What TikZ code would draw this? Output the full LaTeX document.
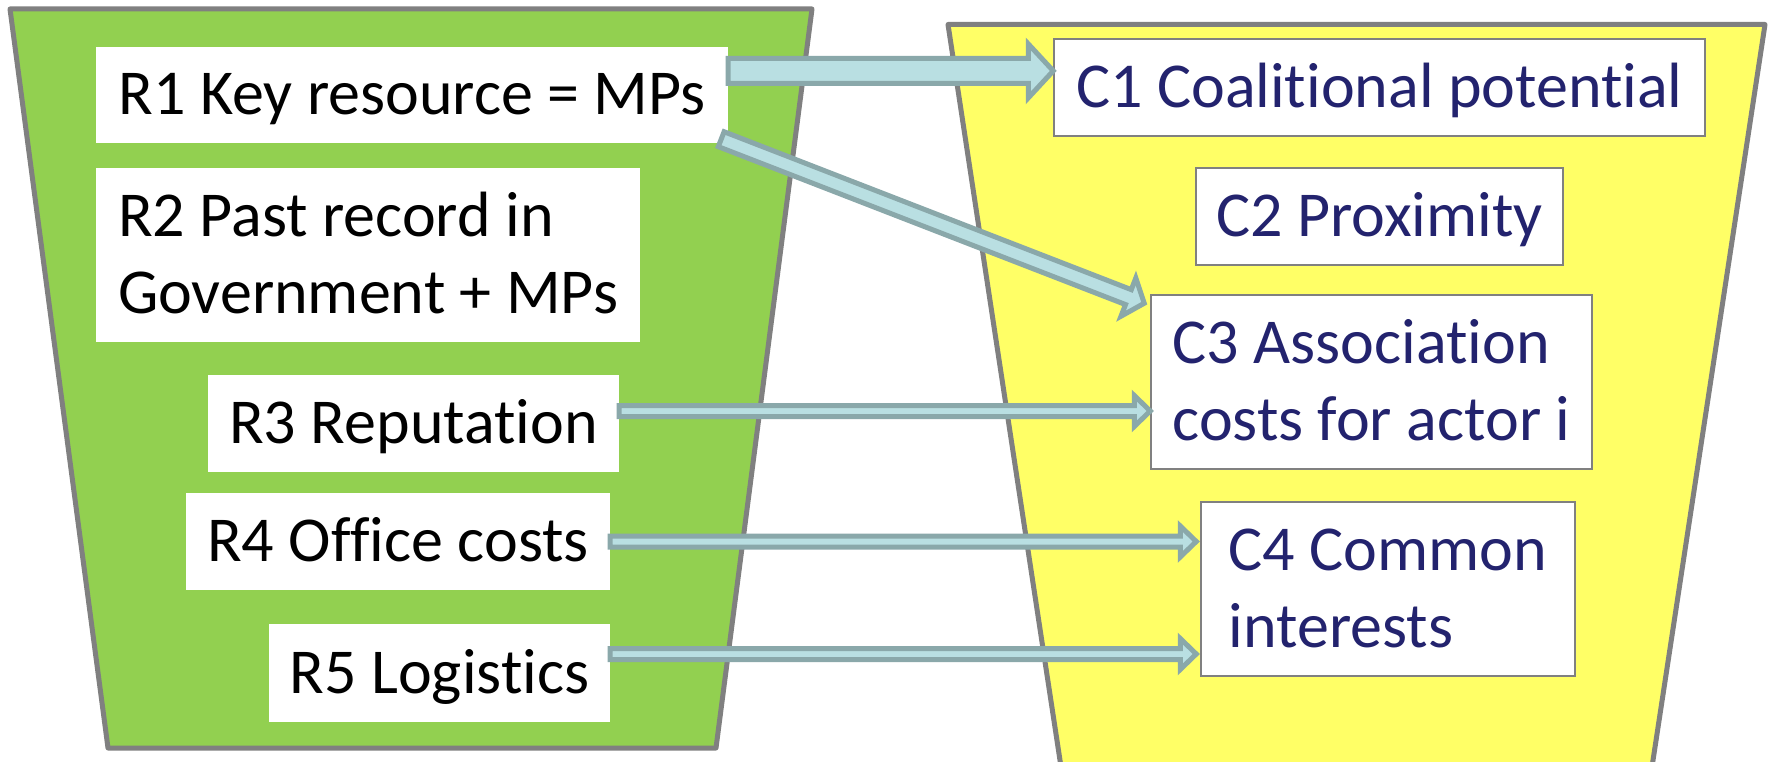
\documentclass[tikz,border=0pt]{standalone}
\usepackage{fontspec}
\setmainfont[RawFeature={-liga}]{Carlito}
\usetikzlibrary{calc}
\definecolor{grn}{HTML}{92D050}
\definecolor{yel}{HTML}{FFFF66}
\definecolor{edge}{HTML}{808080}
\definecolor{afill}{HTML}{B9DFE2}
\definecolor{aedge}{HTML}{8AA8AA}
\definecolor{navy}{HTML}{23236E}
\newcommand{\blockarrow}[5]{%
  \coordinate (ba-h) at ($(#2)!#5pt!(#1)$);
  \draw[barrow] ($(#1)!#3pt!90:(#2)$) -- ($(ba-h)!#3pt!90:(#2)$) -- ($(ba-h)!#4pt!90:(#2)$) -- (#2) -- ($(ba-h)!#4pt!-90:(#2)$) -- ($(ba-h)!#3pt!-90:(#2)$) -- ($(#1)!#3pt!-90:(#2)$) -- cycle;}
\begin{document}
\begin{tikzpicture}[x=1pt,y=-1pt,
  trap/.style={draw=edge, line width=5pt, line join=round},
  rbox/.style={fill=white, inner sep=0pt, font=\fontsize{64}{77}\selectfont},
  cbox/.style={fill=white, draw=edge, line width=1.5pt, inner sep=0pt, text=navy, font=\fontsize{64}{77}\selectfont},
  one/.style={text height=40pt, text depth=0pt, align=center},
  multi/.style={text height=117pt, text depth=0pt, align=left},
  barrow/.style={fill=afill, draw=aedge, line width=5pt}]
\useasboundingbox (0,0) rectangle (1770,762);
\draw[trap, fill=grn] (10,9) -- (812,9) -- (716,748) -- (108,748) -- cycle;
\begin{scope}
\clip (0,0) rectangle (1770,762);
\draw[trap, fill=yel] (948,24.5) -- (1765,24.5) -- (1650,780) -- (1063,780) -- cycle;
\end{scope}
\node[rbox,one,minimum width=632pt,minimum height=96pt] (r1) at (412,95) {R1 Key resource = MPs};
\node[rbox,multi,minimum width=544pt,minimum height=174pt] (r2) at (368,255) {R2 Past record in\\Government + MPs};
\node[rbox,one,minimum width=411pt,minimum height=97pt] (r3) at (413.5,423.5) {R3 Reputation};
\node[rbox,one,minimum width=424pt,minimum height=97pt] (r4) at (398,541.5) {R4 Office costs};
\node[rbox,one,minimum width=341pt,minimum height=98pt] (r5) at (439.5,673) {R5 Logistics};
\node[cbox,one,minimum width=651pt,minimum height=97pt] (c1) at (1379.5,87.5) {C1 Coalitional potential};
\node[cbox,one,minimum width=367pt,minimum height=97pt] (c2) at (1379.5,216.5) {C2 Proximity};
\node[cbox,multi,minimum width=441pt,minimum height=174pt] (c3) at (1371.5,382) {C3 Association\\costs for actor i};
\node[cbox,multi,minimum width=374pt,minimum height=174pt] (c4) at (1388,589) {C4 Common\\interests};
\coordinate (a1s) at ($(r1.north east)!0.25!(r1.south east)$);
\coordinate (a1e) at (a1s -| c1.west);
\blockarrow{a1s}{a1e}{12.5}{27}{25}
\coordinate (a2s) at ($(r1.south east)+(-7,-4)$);
\coordinate (a2e) at ($(c3.north west)+(-6,9)$);
\blockarrow{a2s}{a2e}{8}{20.5}{17}
\coordinate (a3s) at ($(r3.east)+(0,-12.5)$);
\coordinate (a3e) at (a3s -| c3.west);
\blockarrow{a3s}{a3e}{5.5}{15.5}{16}
\coordinate (a4s) at (r4.east);
\coordinate (a4e) at ($(a4s -| c4.west)+(-4,0)$);
\blockarrow{a4s}{a4e}{5.5}{15.5}{16}
\coordinate (a5s) at ($(r5.east)+(0,-19)$);
\coordinate (a5e) at ($(a5s -| c4.west)+(-4,0)$);
\blockarrow{a5s}{a5e}{5.5}{15.5}{16}
\end{tikzpicture}
\end{document}
